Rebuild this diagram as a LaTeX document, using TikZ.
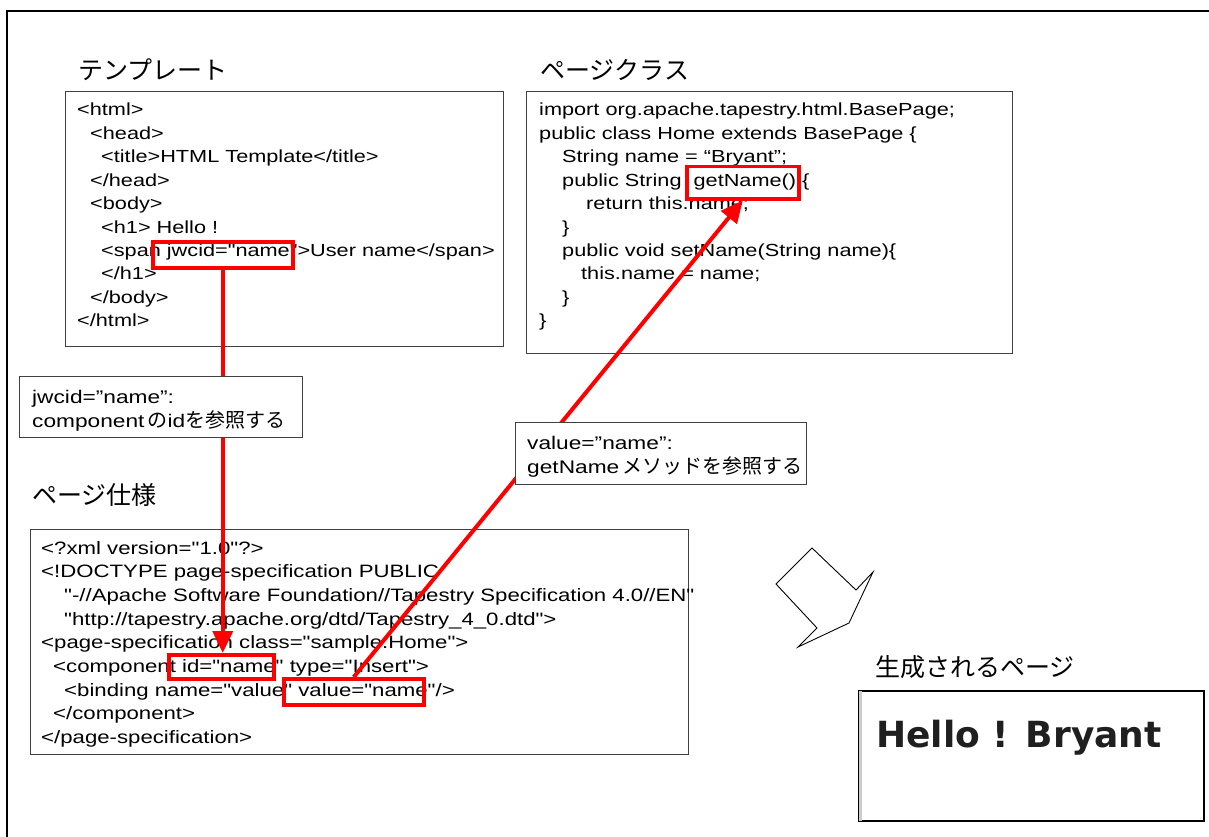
\documentclass[tikz,border=0pt]{standalone}
\usepackage{fontspec}
\setmainfont{Liberation Sans}[FakeStretch=1.24, Ligatures=TeXOff]
\newfontfamily\jp{Noto Sans CJK JP}
\newfontfamily\resfont{DejaVu Sans}
\usetikzlibrary{arrows.meta}
\tikzset{
  codebox/.style={draw=black!75, line width=1.2pt, inner sep=0pt, anchor=north west},
  code/.style={anchor=base west, inner sep=0pt, font=\fontsize{17.5}{20}\selectfont},
  spec/.style={anchor=base west, inner sep=0pt, font=\fontsize{17.9}{20}\selectfont},
  lbl/.style={anchor=base west, inner sep=0pt, font=\fontsize{18.3}{20}\selectfont},
  ttl/.style={anchor=west, inner sep=0pt, font=\jp\fontsize{25}{25}\selectfont},
  hl/.style={draw=red, line width=3.5pt, inner sep=0pt},
  link/.style={draw=red, line width=4pt, -{Triangle[length=22pt,width=20pt]}},
  lblbox/.style={draw=black!75, line width=1.2pt, fill=white, inner sep=0pt, anchor=north west},
}
\newcommand\jpl[1]{{\jp\fontsize{20}{20}\selectfont #1}}
\begin{document}
\begin{tikzpicture}[x=1pt,y=-1pt]
\useasboundingbox (0,0) rectangle (1209,837);
% outer frame
\coordinate (fb) at (7,837);
\coordinate (ftl) at (7,11);
\coordinate (ftr) at (1209,11);
\draw[line width=2.5pt] (fb) -- (ftl) -- (ftr);

% titles
\node[ttl] (t1) at (78,70) {テンプレート};
\node[ttl] (t2) at (540,70) {ページクラス};
\node[ttl] (t3) at (32,495) {ページ仕様};
\node[ttl] (t4) at (875,667) {生成されるページ};

% template box
\node[codebox, minimum width=438pt, minimum height=255pt] (tpl) at (65,91) {};
\node[code] (a1) at (77,116.0) {<html>};
\node[code] (a2) at (90,139.4) {<head>};
\node[code] (a3) at (101,162.8) {<title>HTML Template</title>};
\node[code] (a4) at (90,186.2) {</head>};
\node[code] (a5) at (90,209.6) {<body>};
\node[code] (a6) at (101,233.0) {<h1> Hello !};
\node[code] (a7) at (101,256.4) {<span jwcid="name">User name</span>};
\node[code] (a8) at (101,279.8) {</h1>};
\node[code] (a9) at (90,303.2) {</body>};
\node[code] (a10) at (77,326.6) {</html>};

% page class box
\node[codebox, minimum width=486pt, minimum height=262pt] (cls) at (526,91) {};
\node[code] (b1) at (539,116.0) {import org.apache.tapestry.html.BasePage;};
\node[code] (b2) at (539,139.4) {public class Home extends BasePage \{};
\node[code] (b3) at (562,162.8) {String name = “Bryant”;};
\node[code] (b4) at (562,186.2) {public String\ \ getName() \{};
\node[code] (b5) at (586,209.6) {return this.name;};
\node[code] (b6) at (562,233.0) {\}};
\node[code] (b7) at (562,256.4) {public void setName(String name)\{};
\node[code] (b8) at (581,279.8) {this.name = name;};
\node[code] (b9) at (562,303.2) {\}};
\node[code] (b10) at (539,326.6) {\}};

% page spec box
\node[codebox, minimum width=658pt, minimum height=225pt] (specbox) at (30,529) {};
\node[spec] (c1) at (41,554.0) {<?xml version="1.0"?>};
\node[spec] (c2) at (41,577.7) {<!DOCTYPE page-specification PUBLIC};
\node[spec] (c3) at (64,601.4) {"-//Apache Software Foundation//Tapestry Specification 4.0//EN"};
\node[spec] (c4) at (64,625.1) {"http://tapestry.apache.org/dtd/Tapestry\_4\_0.dtd">};
\node[spec] (c5) at (41,648.8) {<page-specification class="sample.Home">};
\node[spec] (c6) at (53,672.5) {<component id="name" type="Insert">};
\node[spec] (c7) at (64,696.2) {<binding name="value" value="name"/>};
\node[spec] (c8) at (53,719.9) {</component>};
\node[spec] (c9) at (41,743.6) {</page-specification>};

% highlight boxes
\node[hl, minimum width=140pt, minimum height=26pt, anchor=north west] (jw) at (151,240) {};
\node[hl, minimum width=112pt, minimum height=32pt, anchor=north west] (gn) at (685,165) {};
\node[hl, minimum width=105pt, minimum height=24pt, anchor=north west] (idb) at (167,653) {};
\node[hl, minimum width=140pt, minimum height=26pt, anchor=north west] (vb) at (282,677) {};

% connectors
\draw[link] (jw.south) -- (jw.south |- idb.north);
\draw[link] (vb.north) -- (gn.south);

% label boxes
\node[lblbox, minimum width=283pt, minimum height=61pt] (l1) at (19,376) {};
\node[lbl] (l1a) at (32,403) {jwcid=”name”:};
\node[lbl] (l1b) at (32,427) {component\,\jpl{の}id\jpl{を参照する}};
\node[lblbox, minimum width=291pt, minimum height=62pt] (l2) at (515,422) {};
\node[lbl] (l2a) at (527,449) {value=”name”:};
\node[lbl] (l2b) at (527,473) {getName\,\jpl{メソッドを参照する}};

% block arrow
\coordinate (p1) at (812,548);
\coordinate (p2) at (856,590);
\coordinate (p3) at (873,572);
\coordinate (p4) at (849,623);
\coordinate (p5) at (798,647);
\coordinate (p6) at (817,628);
\coordinate (p7) at (776,584);
\draw[line width=0.9pt, line join=miter] (p1) -- (p2) -- (p3) -- (p4) -- (p5) -- (p6) -- (p7) -- cycle;

% result
\node[draw, line width=2pt, inner sep=0pt, anchor=north west, minimum width=345pt, minimum height=130pt] (res) at (858,690) {};
\draw[black!20, line width=2.5pt] ([xshift=2.3pt,yshift=-1pt]res.north west) -- ([xshift=2.3pt,yshift=1pt]res.south west);
\node[anchor=base west, inner sep=0pt, text=black!88, font=\resfont\bfseries\fontsize{36}{36}\selectfont] (hello) at (876,747) {Hello ! Bryant};
\end{tikzpicture}
\end{document}
